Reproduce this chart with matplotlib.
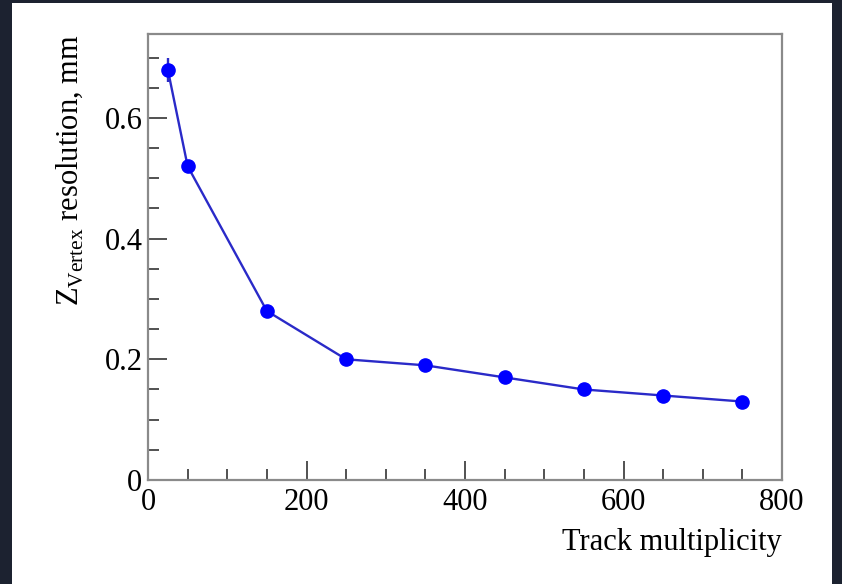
import matplotlib
matplotlib.use('Agg')
import matplotlib.pyplot as plt
from matplotlib.patches import Rectangle
from matplotlib.ticker import MultipleLocator


# Vertex Z resolution vs number of tracks
multiplicity = [25, 50, 150, 250, 350, 450, 550, 650, 750]
resolution_mm = [0.68, 0.52, 0.28, 0.20, 0.19, 0.17, 0.15, 0.14, 0.13]
resolution_err = [0.02, 0.0, 0.0, 0.0, 0.0, 0.0, 0.0, 0.0, 0.0]

x_label = 'Track multiplicity'
y_label = r'Z$_{\mathregular{Vertex}}$ resolution, mm'


def plot_graph(file_name):
    plt.rcParams['font.family'] = ['Liberation Serif', 'DejaVu Serif']
    plt.rcParams['mathtext.fontset'] = 'custom'
    plt.rcParams['mathtext.rm'] = 'Liberation Serif'

    fig = plt.figure(figsize=(8.42, 5.84), dpi=100, facecolor='#1c2230')
    fig.patches.append(Rectangle((12 / 842, 0), 820 / 842, 581 / 584,
                                 transform=fig.transFigure, facecolor='white',
                                 edgecolor='none', zorder=-10))

    ax = fig.add_axes([148 / 842, 1 - 480 / 584, 634 / 842, 446 / 584])
    ax.set_facecolor('white')

    ax.errorbar(multiplicity, resolution_mm, yerr=resolution_err, color='#2a2ac8',
                lw=1.7, ecolor='#2a2ac8', elinewidth=1.7, capsize=0, zorder=2)
    ax.plot(multiplicity, resolution_mm, 'o', color='#0000ff', ms=9.5, zorder=3)

    ax.set_xlim(0, 800)
    ax.set_ylim(0, 0.739)
    ax.xaxis.set_major_locator(MultipleLocator(200))
    ax.xaxis.set_minor_locator(MultipleLocator(50))
    ax.yaxis.set_major_locator(MultipleLocator(0.2))
    ax.yaxis.set_minor_locator(MultipleLocator(0.05))
    ax.xaxis.set_major_formatter(lambda v, p: '%g' % v)
    ax.yaxis.set_major_formatter(lambda v, p: '%g' % round(v, 2))

    for s in ax.spines.values():
        s.set_color('#8a8a8a')
        s.set_linewidth(1.6)
    ax.tick_params(which='both', direction='in', top=False, right=False,
                   color='#333333', labelsize=22, width=1.2)
    ax.tick_params(which='major', length=14)
    ax.tick_params(which='minor', length=8)
    ax.tick_params(axis='x', pad=6)
    ax.tick_params(axis='y', pad=4)

    ax.set_xlabel(x_label, loc='right', fontsize=22, labelpad=8)
    ax.set_ylabel(y_label, loc='top', fontsize=22, labelpad=14)

    plt.savefig(file_name, dpi=100, facecolor=fig.get_facecolor())


def main():
    plot_graph('out.png')


if __name__ == "__main__":
    main()
